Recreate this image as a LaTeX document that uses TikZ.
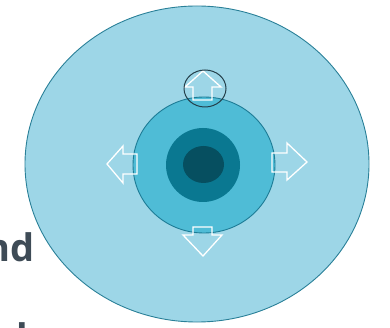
\documentclass[tikz,border=0pt]{standalone}
\usepackage{fontspec}
\setmainfont{Open Sans}
\definecolor{outerfill}{HTML}{9DD6E7}
\definecolor{outerline}{HTML}{2A8098}
\definecolor{midfill}{HTML}{4FBCD6}
\definecolor{midline}{HTML}{1D7C96}
\definecolor{darkfill}{HTML}{0A7891}
\definecolor{corefill}{HTML}{064F60}
\definecolor{ringline}{HTML}{243F4A}
\definecolor{textcol}{HTML}{3E4B56}
\tikzset{
  arrowshape/.style={draw=white, line width=1.3pt, line join=miter, fill=none},
  bigtext/.style={font=\fontsize{38}{40}\selectfont\bfseries, text=textcol, inner sep=0pt}
}
\begin{document}
\begin{tikzpicture}[x=1pt,y=-1pt]
\useasboundingbox (0,0) rectangle (390,328);
% circles
\filldraw[fill=outerfill, draw=outerline, line width=0.9pt] (197,164) ellipse [x radius=172, y radius=158];
\filldraw[fill=midfill, draw=midline, line width=0.9pt] (204,165) ellipse [x radius=71, y radius=68];
\fill[darkfill] (203,165) circle [radius=37];
\fill[corefill] (203.5,164.5) ellipse [x radius=20.5, y radius=18.5];
% arrows
\draw[arrowshape] (203,71) -- (221,87) -- (212,87) -- (212,100) -- (193,100) -- (193,87) -- (185,87) -- cycle;
\draw[arrowshape] (107,164) -- (123,146) -- (123,154) -- (137,154) -- (137,174) -- (123,174) -- (123,183) -- cycle;
\draw[arrowshape] (307,162) -- (287,143) -- (287,153) -- (272,153) -- (272,172) -- (287,172) -- (287,180) -- cycle;
\draw[arrowshape] (203,256) -- (222,235) -- (212,235) -- (212,227) -- (193,227) -- (193,235) -- (183,235) -- cycle;
% highlight ring
\draw[ringline, line width=1pt] (205,88.5) ellipse [x radius=21, y radius=18.5];
% text fragments
\node[bigtext, anchor=base east] (nd) at (35,261) {nd};
\node[bigtext, anchor=base] (frag) at (22,351) {l};
\end{tikzpicture}
\end{document}
